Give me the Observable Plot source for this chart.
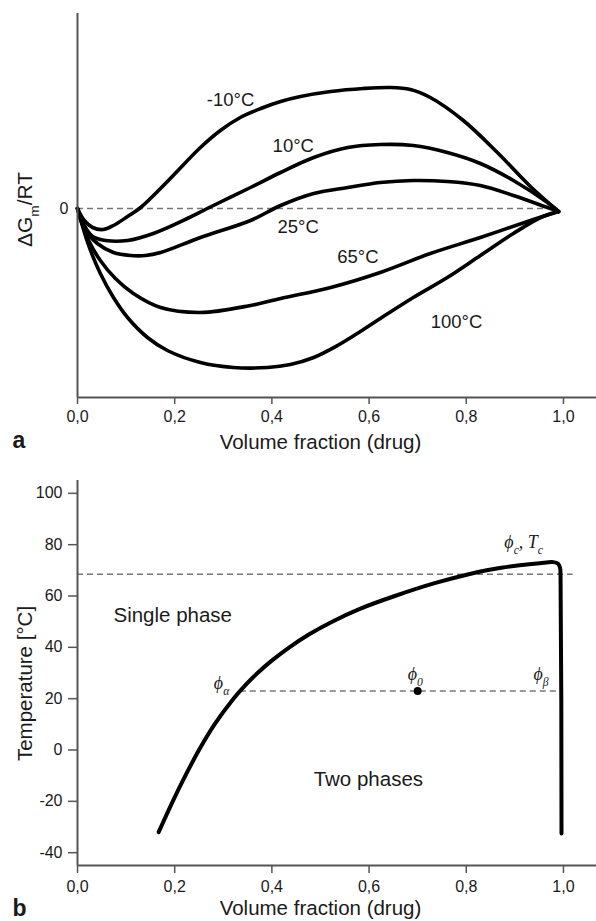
<!DOCTYPE html>
<html><head><meta charset="utf-8">
<script src="https://cdn.jsdelivr.net/npm/d3@7"></script>
<script src="https://cdn.jsdelivr.net/npm/@observablehq/plot@0.6"></script>
<style>
html,body{margin:0;padding:0;background:#fff;}
#chart{width:596px;}
#chart svg{display:block;}
</style></head><body><div id="chart"></div>
<script>
// ---------- data: panel a (free energy of mixing) ----------
const xTicks = [0, 0.2, 0.4, 0.6, 0.8, 1.0];
const xTickLabels = ["0,0", "0,2", "0,4", "0,6", "0,8", "1,0"];
const xDomain = [0, 1.068];
const energyDomain = [-1.89, 1.95];
const energyTicks = [0];
const energyTickLabels = ["0"];
const zeroLineEnd = 0.99;

const curveTemps = ["-10°C", "10°C", "25°C", "65°C", "100°C"];
const phiM10 = [0, 0.014, 0.031, 0.053, 0.074, 0.103, 0.130, 0.181, 0.253, 0.294, 0.335, 0.377, 0.418, 0.459, 0.521, 0.588, 0.644, 0.685, 0.726, 0.794, 0.864, 0.932, 0.990];
const gM10   = [0, -0.12, -0.19, -0.21, -0.17, -0.08, 0.01, 0.25, 0.61, 0.78, 0.91, 1.00, 1.07, 1.12, 1.17, 1.20, 1.21, 1.19, 1.11, 0.88, 0.56, 0.22, -0.03];
const phi10  = [0, 0.014, 0.031, 0.058, 0.103, 0.156, 0.226, 0.267, 0.356, 0.418, 0.486, 0.556, 0.623, 0.691, 0.761, 0.829, 0.897, 0.967, 0.990];
const g10    = [0, -0.17, -0.28, -0.32, -0.32, -0.25, -0.10, 0.00, 0.21, 0.36, 0.51, 0.61, 0.64, 0.63, 0.56, 0.45, 0.28, 0.06, -0.03];
const phi25  = [0, 0.014, 0.041, 0.074, 0.109, 0.140, 0.171, 0.253, 0.356, 0.418, 0.486, 0.556, 0.623, 0.691, 0.761, 0.829, 0.897, 0.967, 0.990];
const g25    = [0, -0.20, -0.35, -0.44, -0.47, -0.47, -0.44, -0.29, -0.12, 0.03, 0.15, 0.21, 0.26, 0.28, 0.27, 0.23, 0.13, 0.01, -0.03];
const phi65  = [0, 0.023, 0.047, 0.078, 0.115, 0.171, 0.253, 0.356, 0.418, 0.521, 0.623, 0.726, 0.829, 0.932, 0.990];
const g65    = [0, -0.32, -0.52, -0.70, -0.85, -0.99, -1.04, -0.97, -0.90, -0.79, -0.64, -0.45, -0.29, -0.12, -0.03];
const phi100 = [0, 0.023, 0.047, 0.074, 0.103, 0.144, 0.185, 0.253, 0.321, 0.391, 0.438, 0.486, 0.535, 0.582, 0.623, 0.691, 0.761, 0.829, 0.897, 0.953, 0.990];
const g100   = [0, -0.37, -0.65, -0.89, -1.09, -1.29, -1.42, -1.54, -1.59, -1.59, -1.56, -1.49, -1.37, -1.23, -1.10, -0.89, -0.69, -0.47, -0.25, -0.09, -0.03];
const curveLabelPhi = [0.315, 0.444, 0.454, 0.577, 0.78];
const curveLabelG   = [1.08, 0.62, -0.19, -0.49, -1.14];

// ---------- data: panel b (phase diagram) ----------
const tempDomain = [-45, 105];
const tempTicks = [-40, -20, 0, 20, 40, 60, 80, 100];
const tempTickLabels = ["-40", "-20", "0", "20", "40", "60", "80", "100"];
const binodalPhi = [0.167, 0.196, 0.222, 0.250, 0.282, 0.321, 0.344, 0.3705, 0.401, 0.436, 0.476, 0.524, 0.581, 0.653, 0.735, 0.805, 0.842, 0.872, 0.910, 0.951, 0.979, 0.989, 0.993, 0.994, 0.996];
const binodalT   = [-32, -20, -10, 0, 10, 20, 25, 30, 35, 40, 45, 50, 55, 60, 65, 68.5, 70, 71, 72, 72.8, 73.2, 72.6, 71, 68, -32.5];
const Tc = 68.5, tcLineEnd = 1.02;
const T0 = 23, phi0 = 0.7, phiAlpha = 0.335, phiBeta = 0.99;
const phiCritical = 0.96, tCritical = 73;
const regionLabels = ["Single phase", "Two phases"];
const regionPhi = [0.074, 0.486];
const regionT = [49.8, -14];

// ---------- styles ----------
const SANS = "'Liberation Sans', Arial, Helvetica, sans-serif";
const SERIF = "'Liberation Serif', 'DejaVu Serif', 'Times New Roman', serif";
const INK = "#1a1a1a", AXIS = "#555", DASH = "#777";
const dashed = {stroke: DASH, strokeWidth: 1.5, strokeDasharray: "6,4"};
const fmtX = d => xTickLabels[xTicks.indexOf(d)];
const id = d => d;

const series = [[phiM10, gM10], [phi10, g10], [phi25, g25], [phi65, g65], [phi100, g100]];
const topRows = series.flatMap(([xs, ys], k) => xs.map((x, i) => ({phi: x, g: ys[i], curve: curveTemps[k]})));
const binodalRows = binodalPhi.map((x, i) => ({phi: x, T: binodalT[i]}));

const topPlot = Plot.plot({
  width: 596, height: 455,
  marginLeft: 77, marginRight: 0, marginTop: 13, marginBottom: 58,
  style: {fontFamily: SANS, fontSize: "16px", color: INK, background: "white"},
  x: {domain: xDomain},
  y: {domain: energyDomain},
  marks: [
    Plot.ruleY([0], {x1: 0, x2: zeroLineEnd, ...dashed}),
    Plot.line(topRows, {x: "phi", y: "g", z: "curve", curve: "catmull-rom", stroke: "#000", strokeWidth: 3.6}),
    Plot.ruleX([xDomain[0]], {stroke: AXIS, strokeWidth: 2}),
    Plot.ruleY([energyDomain[0]], {stroke: AXIS, strokeWidth: 2}),
    Plot.axisX(xTicks, {tickSize: 7, tickPadding: 6, tickFormat: fmtX, stroke: AXIS, strokeWidth: 1.5, fill: INK, fontSize: 16, label: null}),
    Plot.axisY(energyTicks, {tickSize: 0, tickPadding: 9, tickFormat: d => energyTickLabels[energyTicks.indexOf(d)], fill: INK, fontSize: 16, label: null}),
    Plot.text(curveTemps, {text: id, x: curveLabelPhi, y: curveLabelG, fontSize: 18.5, fill: INK, textAnchor: "middle", lineAnchor: "middle"}),
    Plot.text(["ΔG_{m}/RT"], {text: id, frameAnchor: "left", rotate: -90, dx: -52, dy: 4, fontSize: 21, fill: INK, textAnchor: "middle", lineAnchor: "middle"}),
    Plot.text(["Volume fraction (drug)"], {text: id, x: 0.5, frameAnchor: "bottom", textAnchor: "middle", lineAnchor: "bottom", dy: 51, fontSize: 20.5, fill: INK}),
    Plot.text(["a"], {text: id, frameAnchor: "bottom-left", textAnchor: "start", lineAnchor: "bottom", dx: -65, dy: 50, fontSize: 23, fontWeight: "bold", fill: INK})
  ]
});

const bottomPlot = Plot.plot({
  width: 596, height: 466,
  marginLeft: 77, marginRight: 0, marginTop: 25, marginBottom: 56,
  style: {fontFamily: SANS, fontSize: "16px", color: INK, background: "white"},
  x: {domain: xDomain},
  y: {domain: tempDomain},
  marks: [
    Plot.ruleY([Tc], {x1: 0, x2: tcLineEnd, ...dashed}),
    Plot.ruleY([T0], {x1: phiAlpha, x2: phiBeta, ...dashed}),
    Plot.line(binodalRows, {x: "phi", y: "T", curve: "catmull-rom", stroke: "#000", strokeWidth: 4}),
    Plot.dot([{phi: phi0, T: T0}], {x: "phi", y: "T", r: 4, fill: "#000", stroke: null}),
    Plot.ruleX([xDomain[0]], {stroke: AXIS, strokeWidth: 2}),
    Plot.ruleY([tempDomain[0]], {stroke: AXIS, strokeWidth: 2}),
    Plot.axisX(xTicks, {tickSize: 8, tickPadding: 7, tickFormat: fmtX, stroke: AXIS, strokeWidth: 1.5, fill: INK, fontSize: 16, label: null}),
    Plot.axisY(tempTicks, {tickSize: 9, tickPadding: 6, tickFormat: d => tempTickLabels[tempTicks.indexOf(d)], stroke: AXIS, strokeWidth: 1.5, fill: INK, fontSize: 16, label: null}),
    Plot.text(regionLabels, {text: id, x: regionPhi, y: regionT, textAnchor: "start", lineAnchor: "bottom", fontSize: 20.5, fill: INK}),
    Plot.text(["ϕ_{α}"], {text: id, x: [phiAlpha], y: [T0], textAnchor: "end", lineAnchor: "bottom", dx: -11, dy: -2, fontSize: 18, fontFamily: SERIF, fontStyle: "italic", fill: INK}),
    Plot.text(["ϕ_{0}"], {text: id, x: [phi0], y: [T0], textAnchor: "start", lineAnchor: "bottom", dx: -10, dy: -11, fontSize: 18, fontFamily: SERIF, fontStyle: "italic", fill: INK}),
    Plot.text(["ϕ_{β}"], {text: id, x: [phiBeta], y: [T0], textAnchor: "end", lineAnchor: "bottom", dx: -10, dy: -11, fontSize: 18, fontFamily: SERIF, fontStyle: "italic", fill: INK}),
    Plot.text(["ϕ_{c}, T_{c}"], {text: id, x: [phiCritical], y: [tCritical], textAnchor: "end", lineAnchor: "bottom", dx: -1, dy: -14.5, fontSize: 18, fontFamily: SERIF, fontStyle: "italic", fill: INK}),
    Plot.text(["Temperature [°C]"], {text: id, frameAnchor: "left", rotate: -90, dx: -52.4, dy: 10.5, fontSize: 20.5, fill: INK, textAnchor: "middle", lineAnchor: "middle"}),
    Plot.text(["Volume fraction (drug)"], {text: id, x: 0.5, frameAnchor: "bottom", textAnchor: "middle", lineAnchor: "bottom", dy: 49, fontSize: 20.5, fill: INK}),
    Plot.text(["b"], {text: id, frameAnchor: "bottom-left", textAnchor: "start", lineAnchor: "bottom", dx: -65, dy: 50, fontSize: 23, fontWeight: "bold", fill: INK})
  ]
});

const root = document.getElementById("chart");
root.append(topPlot, bottomPlot);

// turn "_{...}" markup into real subscript tspans
function subscripts(svg) {
  d3.select(svg).selectAll("text").each(function () {
    const el = this;
    const s = el.textContent;
    if (!s.includes("_{")) return;
    const fs = parseFloat(getComputedStyle(el).fontSize) || 16;
    const parts = s.split(/_\{([^}]*)\}/);
    el.textContent = "";
    let cur = 0;
    parts.forEach((p, i) => {
      if (p === "") return;
      const isSub = i % 2 === 1;
      const target = isSub ? fs * 0.32 : 0;
      const t = d3.select(el).append("tspan").text(p);
      if (target !== cur) { t.attr("dy", target - cur); cur = target; }
      if (isSub) t.attr("font-size", fs * 0.65);
    });
  });
}
subscripts(topPlot);
subscripts(bottomPlot);
</script>
</body></html>
